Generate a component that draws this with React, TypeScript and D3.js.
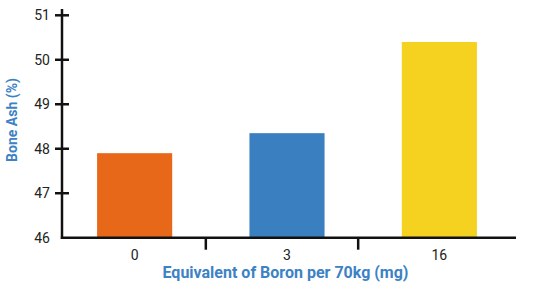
import React from "react";
import * as d3 from "d3";

const categories = ["0", "3", "16"];
const values = [47.9, 48.35, 50.4];
const colors = ["#E8681A", "#3A80C1", "#F5D21F"];
const yTicks = [46, 47, 48, 49, 50, 51];
const xTitle = "Equivalent of Boron per 70kg (mg)";
const yTitle = "Bone Ash (%)";

export default function App() {
  const W = 550, H = 287;
  const x0 = 62, x1 = 516, yBase = 237.7, yTop = 15.3;
  const x = d3.scaleBand<string>().domain(categories).range([59, 515]).paddingInner(0.507).paddingOuter(0.25);
  const y = d3.scaleLinear().domain([46, 51]).range([yBase, yTop]);
  const step = x.step();
  const seps = categories.slice(1).map((c) => (x(c) as number) - (step - x.bandwidth()) / 2 - 5);
  const font = "Roboto, 'Noto Sans', sans-serif";
  return (
    <svg width={W} height={H} style={{ position: "absolute", left: 0, top: 0, background: "#fff" }}>
      {categories.map((c, i) => (
        <rect key={c} x={x(c)} y={y(values[i])} width={x.bandwidth()} height={yBase - y(values[i])} fill={colors[i]} />
      ))}
      <line x1={x0} x2={x0} y1={9} y2={yBase + 1.2} stroke="#111" strokeWidth={2.5} />
      <line x1={x0 - 1.2} x2={x1} y1={yBase} y2={yBase} stroke="#111" strokeWidth={2.5} />
      {yTicks.map((t) => (
        <g key={t}>
          {t !== 46 && <line x1={x0 - 7} x2={x0 + 7} y1={y(t)} y2={y(t)} stroke="#111" strokeWidth={2.5} />}
          <text x={50} y={y(t)} dy="0.35em" textAnchor="end" fontFamily={font} fontSize={14} fill="#222">{t}</text>
        </g>
      ))}
      {seps.map((s, i) => (
        <line key={i} x1={s} x2={s} y1={yBase} y2={yBase + 12} stroke="#111" strokeWidth={2.5} />
      ))}
      {categories.map((c) => (
        <text key={c} x={(x(c) as number) + x.bandwidth() / 2} y={255} dy="0.35em" textAnchor="middle" fontFamily={font} fontSize={14} fill="#222">{c}</text>
      ))}
      <text x={285.5} y={272.4} dy="0.35em" textAnchor="middle" fontFamily={font} fontSize={16} fontWeight="bold" fill="#3C82C4">{xTitle}</text>
      <text transform={`translate(12,120) rotate(-90)`} dy="0.35em" textAnchor="middle" fontFamily={font} fontSize={14} fontWeight="bold" fill="#3C82C4">{yTitle}</text>
    </svg>
  );
}
